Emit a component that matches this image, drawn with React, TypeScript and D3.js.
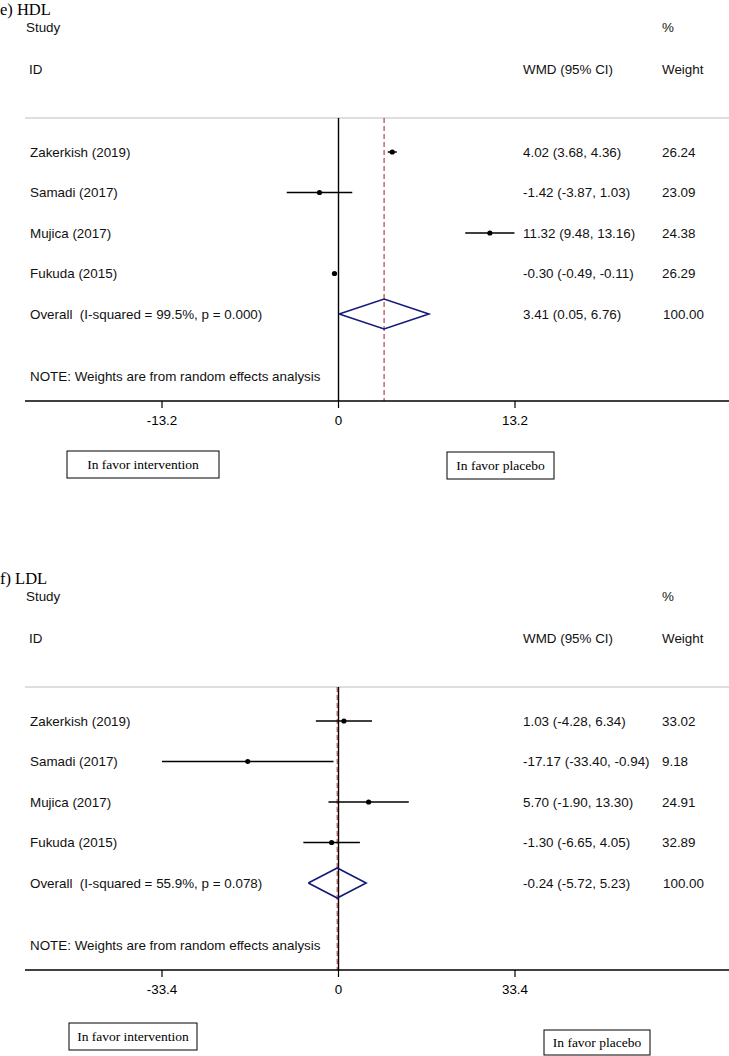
import React, { useEffect } from "react";
import * as d3 from "d3";

const studies = ["Zakerkish (2019)", "Samadi (2017)", "Mujica (2017)", "Fukuda (2015)"];

// HDL
const hdlEst = [4.02, -1.42, 11.32, -0.3];
const hdlLo = [3.68, -3.87, 9.48, -0.49];
const hdlHi = [4.36, 1.03, 13.16, -0.11];
const hdlWeight = ["26.24", "23.09", "24.38", "26.29"];
const hdlOverall = [3.41, 0.05, 6.76];
const hdlOverallLabel = "Overall  (I-squared = 99.5%, p = 0.000)";
const hdlTicks = [-13.2, 0, 13.2];

// LDL
const ldlEst = [1.03, -17.17, 5.7, -1.3];
const ldlLo = [-4.28, -33.4, -1.9, -6.65];
const ldlHi = [6.34, -0.94, 13.3, 4.05];
const ldlWeight = ["33.02", "9.18", "24.91", "32.89"];
const ldlOverall = [-0.24, -5.72, 5.23];
const ldlOverallLabel = "Overall  (I-squared = 55.9%, p = 0.078)";
const ldlTicks = [-33.4, 0, 33.4];

const sans = "'Liberation Sans', Arial, sans-serif";
const serif = "'Liberation Serif', 'Times New Roman', serif";
const fs = 13.4;

const fmt = (v: number) => v.toFixed(2);

type PanelProps = {
  top: number;
  title: string;
  est: number[];
  lo: number[];
  hi: number[];
  weight: string[];
  overall: number[];
  overallLabel: string;
  ticks: number[];
  boxes: { x: number; y: number; w: number; h: number; label: string }[];
};

const Panel = ({ top, title, est, lo, hi, weight, overall, overallLabel, ticks, boxes }: PanelProps) => {
  const x = d3
    .scaleLinear()
    .domain([ticks[0], ticks[ticks.length - 1]])
    .range([162, 515]);
  const rows = [...studies, overallLabel];
  const y = d3
    .scalePoint<number>()
    .domain(d3.range(rows.length))
    .range([152, 314]);
  const lineTop = 118;
  const axisY = 401;
  const diamondH = 15;
  const [oe, ol, oh] = overall;
  const diamond = d3.line()([
    [x(ol), y(4)!],
    [x(oe), y(4)! - diamondH],
    [x(oh), y(4)!],
    [x(oe), y(4)! + diamondH],
    [x(ol), y(4)!],
  ]);

  return (
    <g transform={`translate(0,${top})`}>
      <text x={0} y={15} fontFamily={serif} fontSize={16.5}>{title}</text>
      <g fontFamily={sans} fontSize={fs} fill="#111">
        <text x={26} y={32}>Study</text>
        <text x={662} y={32}>%</text>
        <text x={29} y={74}>ID</text>
        <text x={523} y={74}>WMD (95% CI)</text>
        <text x={662} y={74}>Weight</text>
      </g>
      <line x1={25} x2={729} y1={lineTop} y2={lineTop} stroke="#bdbdbd" strokeWidth={1} />

      {/* null line */}
      <line x1={x(0)} x2={x(0)} y1={lineTop} y2={axisY} stroke="#000" strokeWidth={1.4} />
      {/* overall effect line */}
      <line
        x1={x(oe)}
        x2={x(oe)}
        y1={lineTop}
        y2={axisY}
        stroke="#b5424c"
        strokeWidth={1.2}
        strokeDasharray="5,3"
      />

      {/* study rows */}
      {est.map((e, i) => (
        <g key={i}>
          <line x1={x(lo[i])} x2={x(hi[i])} y1={y(i)} y2={y(i)} stroke="#000" strokeWidth={1.5} />
          <circle cx={x(e)} cy={y(i)} r={2.6} fill="#000" />
        </g>
      ))}
      <path d={diamond ?? ""} fill="none" stroke="#141a7a" strokeWidth={1.6} />

      {/* labels */}
      <g fontFamily={sans} fontSize={fs} fill="#111">
        {rows.map((r, i) => (
          <text key={r} x={30} y={y(i)! + 4.5} style={{ whiteSpace: "pre" }}>{r}</text>
        ))}
        {est.map((e, i) => (
          <text key={i} x={523} y={y(i)! + 4.5}>
            {`${fmt(e)} (${fmt(lo[i])}, ${fmt(hi[i])})`}
          </text>
        ))}
        <text x={523} y={y(4)! + 4.5}>{`${fmt(oe)} (${fmt(ol)}, ${fmt(oh)})`}</text>
        {weight.map((w, i) => (
          <text key={i} x={662} y={y(i)! + 4.5}>{w}</text>
        ))}
        <text x={663} y={y(4)! + 4.5}>100.00</text>
        <text x={30} y={381}>NOTE: Weights are from random effects analysis</text>
      </g>

      {/* axis */}
      <line x1={25} x2={729} y1={axisY} y2={axisY} stroke="#000" strokeWidth={1.4} />
      {ticks.map((t) => (
        <g key={t}>
          <line x1={x(t)} x2={x(t)} y1={axisY} y2={axisY + 7} stroke="#000" strokeWidth={1.2} />
          <text x={x(t)} y={axisY + 24} textAnchor="middle" fontFamily={sans} fontSize={fs}>
            {t === 0 ? "0" : t.toString()}
          </text>
        </g>
      ))}

      {boxes.map((b) => (
        <g key={b.label}>
          <rect x={b.x} y={b.y} width={b.w} height={b.h} fill="#fff" stroke="#000" strokeWidth={1} />
          <text
            x={b.x + b.w / 2}
            y={b.y + b.h / 2 + 4.5}
            textAnchor="middle"
            fontFamily={serif}
            fontSize={13.5}
          >
            {b.label}
          </text>
        </g>
      ))}
    </g>
  );
};

export default function App() {
  useEffect(() => {
    document.body.style.margin = "0";
  }, []);

  return (
    <svg width={729} height={1056} style={{ display: "block", background: "#fff" }}>
      <rect width={729} height={1056} fill="#fff" />
      <Panel
        top={0}
        title="e) HDL"
        est={hdlEst}
        lo={hdlLo}
        hi={hdlHi}
        weight={hdlWeight}
        overall={hdlOverall}
        overallLabel={hdlOverallLabel}
        ticks={hdlTicks}
        boxes={[
          { x: 67, y: 451, w: 152, h: 27, label: "In favor intervention" },
          { x: 447, y: 452, w: 107, h: 27, label: "In favor placebo" },
        ]}
      />
      <Panel
        top={569}
        title="f) LDL"
        est={ldlEst}
        lo={ldlLo}
        hi={ldlHi}
        weight={ldlWeight}
        overall={ldlOverall}
        overallLabel={ldlOverallLabel}
        ticks={ldlTicks}
        boxes={[
          { x: 69, y: 454, w: 128, h: 27, label: "In favor intervention" },
          { x: 544, y: 461, w: 106, h: 25, label: "In favor placebo" },
        ]}
      />
    </svg>
  );
}
